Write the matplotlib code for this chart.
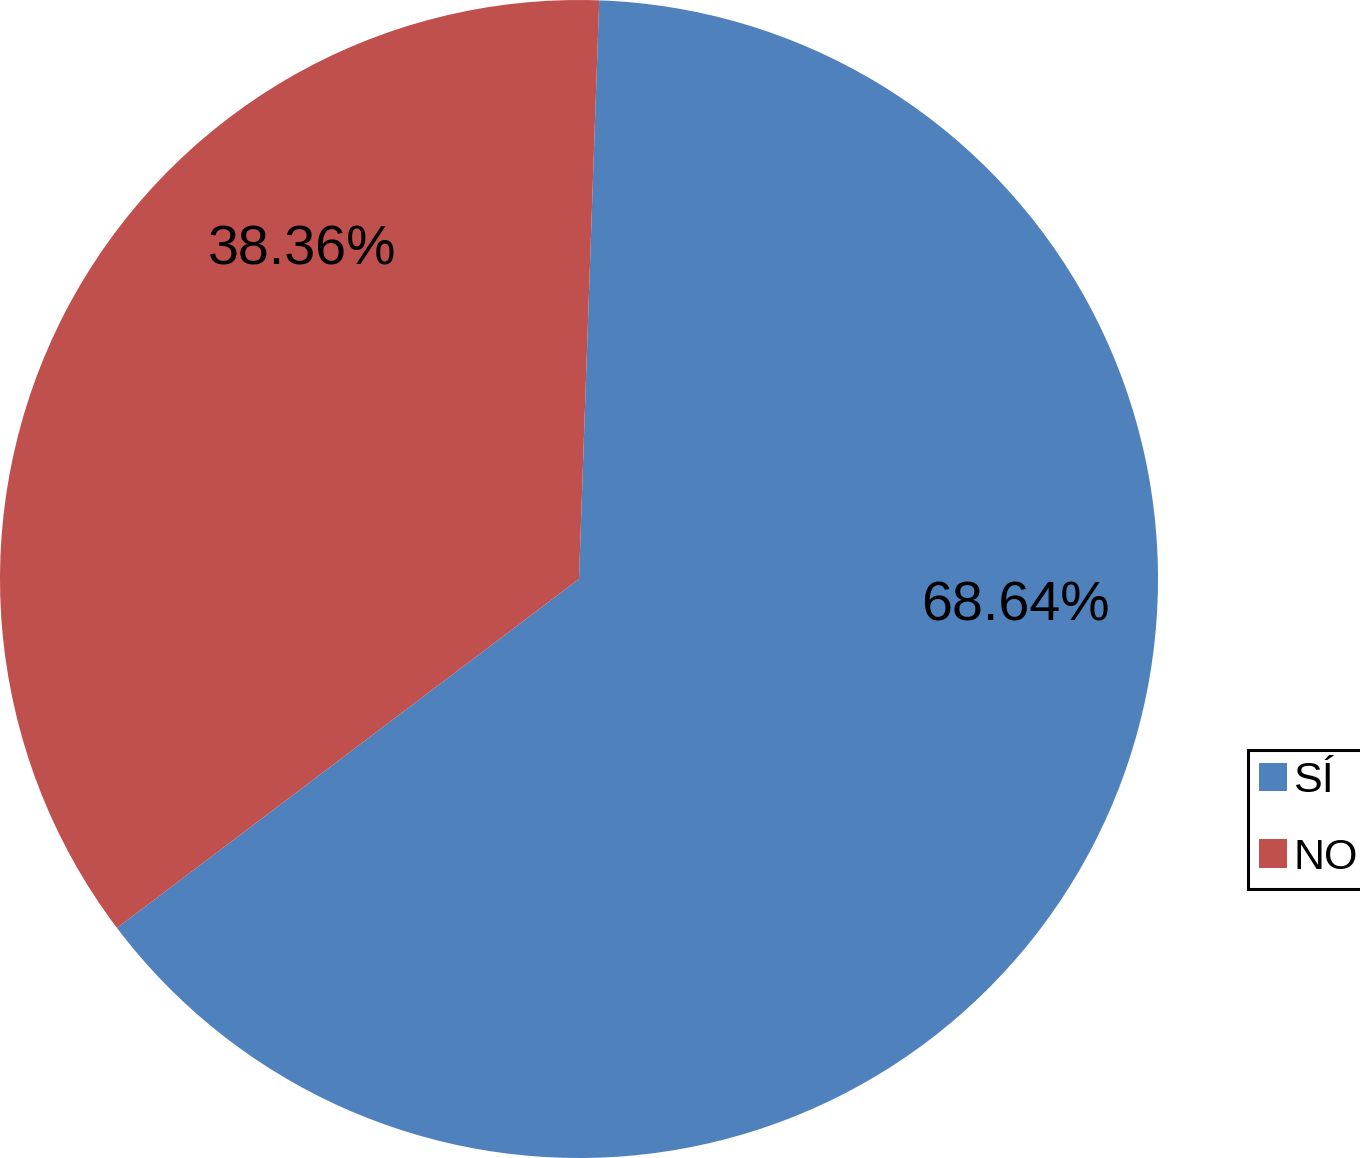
import matplotlib
matplotlib.use("Agg")
from matplotlib import pyplot as plt

# ---------- DATA ----------
categories = ["SÍ", "NO"]
values = [68.64, 38.36]
value_labels = ["68.64%", "38.36%"]
colors = ["#4F81BD", "#C0504D"]

plt.rcParams['font.family'] = ['Liberation Sans', 'DejaVu Sans']

# ---------- FIGURE ----------
fig = plt.figure(figsize=(13.6, 11.58), dpi=100)
ax = fig.add_axes([0, 0, 1158 / 1360, 1])

wedges, _ = ax.pie(values, colors=colors, startangle=88, counterclock=False,
                   radius=1.0, wedgeprops=dict(linewidth=0))
ax.set_xlim(-1.0, 1.0)
ax.set_ylim(-1.0, 1.0)
ax.set_aspect('equal')
ax.axis('off')

# value labels (placed roughly where the original has them)
label_pos = [(0.754, -0.047), (-0.478, 0.567)]
for txt, (x, y) in zip(value_labels, label_pos):
    ax.text(x, y, txt, ha='center', va='center', fontsize=40, color='black')

# ---------- LEGEND ----------
leg = fig.legend(wedges, categories, loc='upper left',
                 bbox_to_anchor=(0.9175, 0.352), borderaxespad=0,
                 fontsize=31, handlelength=0.65, handleheight=0.65,
                 handletextpad=0.15, labelspacing=0.85, borderpad=0.25,
                 fancybox=False, framealpha=1)
leg.get_frame().set_edgecolor('black')
leg.get_frame().set_linewidth(2.2)

fig.savefig("out.png", dpi=100)
